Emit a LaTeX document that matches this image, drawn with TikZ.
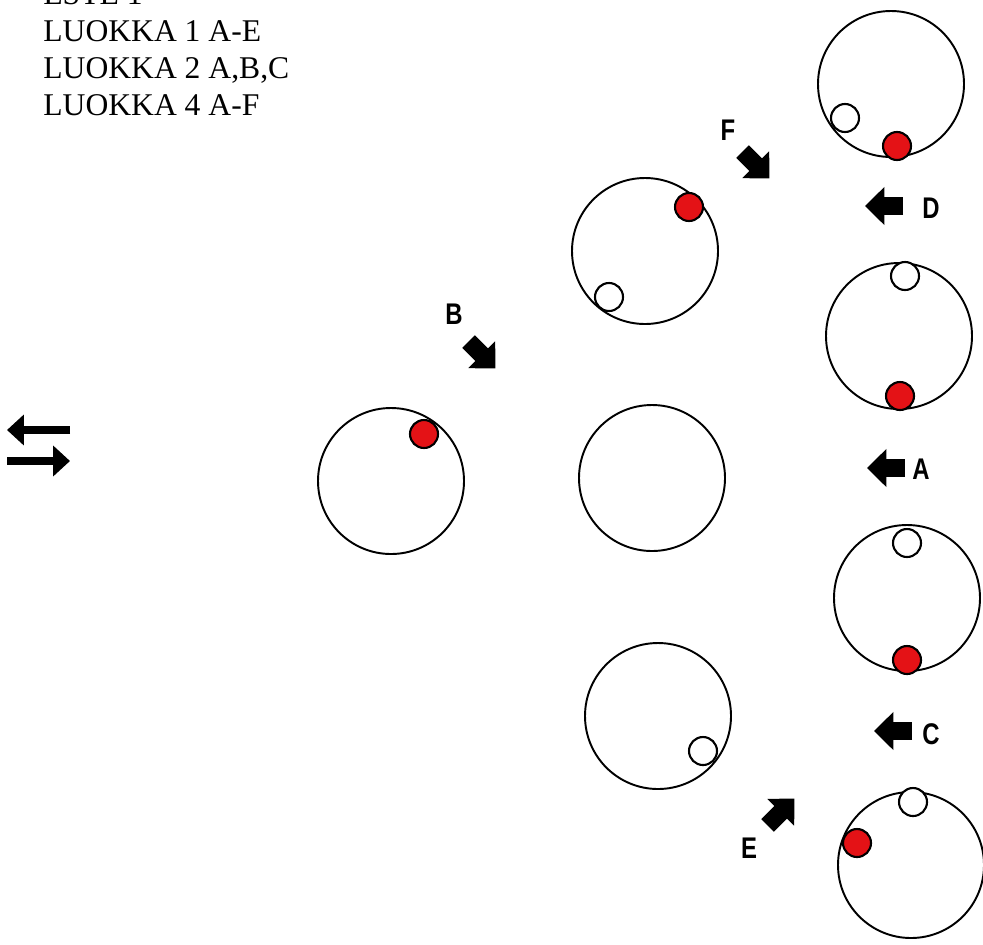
\documentclass[tikz,border=0pt]{standalone}
\usepackage{fontspec}
\setmainfont{Liberation Serif}
\newfontfamily\tagfont{Liberation Sans}
\usetikzlibrary{arrows.meta}
\definecolor{ballred}{RGB}{228,18,22}

\tikzset{
  bowl/.style={line width=1.1pt},
  ball/.style={draw, line width=1.2pt, fill=white},
  redball/.style={ball, fill=ballred},
  push/.style={line width=10.2pt, -{Triangle[length=11pt, width=21pt]}},
  swap/.style={line width=4.5pt, -{Triangle[length=9.6pt, width=17pt]}},
  tag/.style={font=\tagfont\bfseries\fontsize{17}{17}\selectfont, inner sep=0pt, xscale=.8, transform shape}
}

\begin{document}
\begin{tikzpicture}[x=0.02cm, y=-0.02cm]
    \useasboundingbox (0,0) rectangle (983,944);
    % title lines
    \foreach \y/\txt in {4.7/ESTE 1, 41.7/LUOKKA 1 A-E, 78.3/{LUOKKA 2 A,B,C}, 115.7/LUOKKA 4 A-F}
        \node[anchor=base west, inner sep=0pt, font=\fontsize{18}{18}\selectfont] at (43,\y) {\txt};
    % bowls
    \draw[bowl] (391,481) circle (73);
    \draw[bowl] (645,251) circle (73);
    \draw[bowl] (652,478) circle (73);
    \draw[bowl] (658,716) circle (73);
    \draw[bowl] (891,84) circle (73);
    \draw[bowl] (899,336) circle (73);
    \draw[bowl] (907,598) circle (73);
    \draw[bowl] (911,865) circle (73);
    % balls
    \draw[redball] (424,434) circle (14);
    \draw[redball] (689,207) circle (14);
    \draw[ball] (609,297) circle (14);
    \draw[ball] (703,751) circle (14);
    \draw[ball] (845,118) circle (14);
    \draw[redball] (897,146) circle (14);
    \draw[ball] (905,276) circle (14);
    \draw[redball] (900,396) circle (14);
    \draw[ball] (907,543) circle (14);
    \draw[redball] (907,660) circle (14);
    \draw[ball] (913,802) circle (14);
    \draw[redball] (857,843) circle (14);
    % moves
    \draw[push] (742.6,151.6) -- (769.4,178.4);
    \draw[push] (468.6,341.6) -- (495.4,368.4);
    \draw[push] (767.6,825.4) -- (794.4,798.6);
    \draw[push] (903,206) -- (865,206);
    \draw[push] (905,468) -- (867,468);
    \draw[push] (912,731) -- (874,731);
    \node[tag] (F) at (728,130) {F};
    \node[tag] (B) at (454,314) {B};
    \node[tag] (E) at (749,848) {E};
    \node[tag] (D) at (931,208) {D};
    \node[tag] (A) at (921,469) {A};
    \node[tag] (C) at (931,734) {C};
    % swap sign
    \draw[swap] (70,430) -- (7,430);
    \draw[swap] (7,461) -- (70,461);
\end{tikzpicture}
\end{document}
